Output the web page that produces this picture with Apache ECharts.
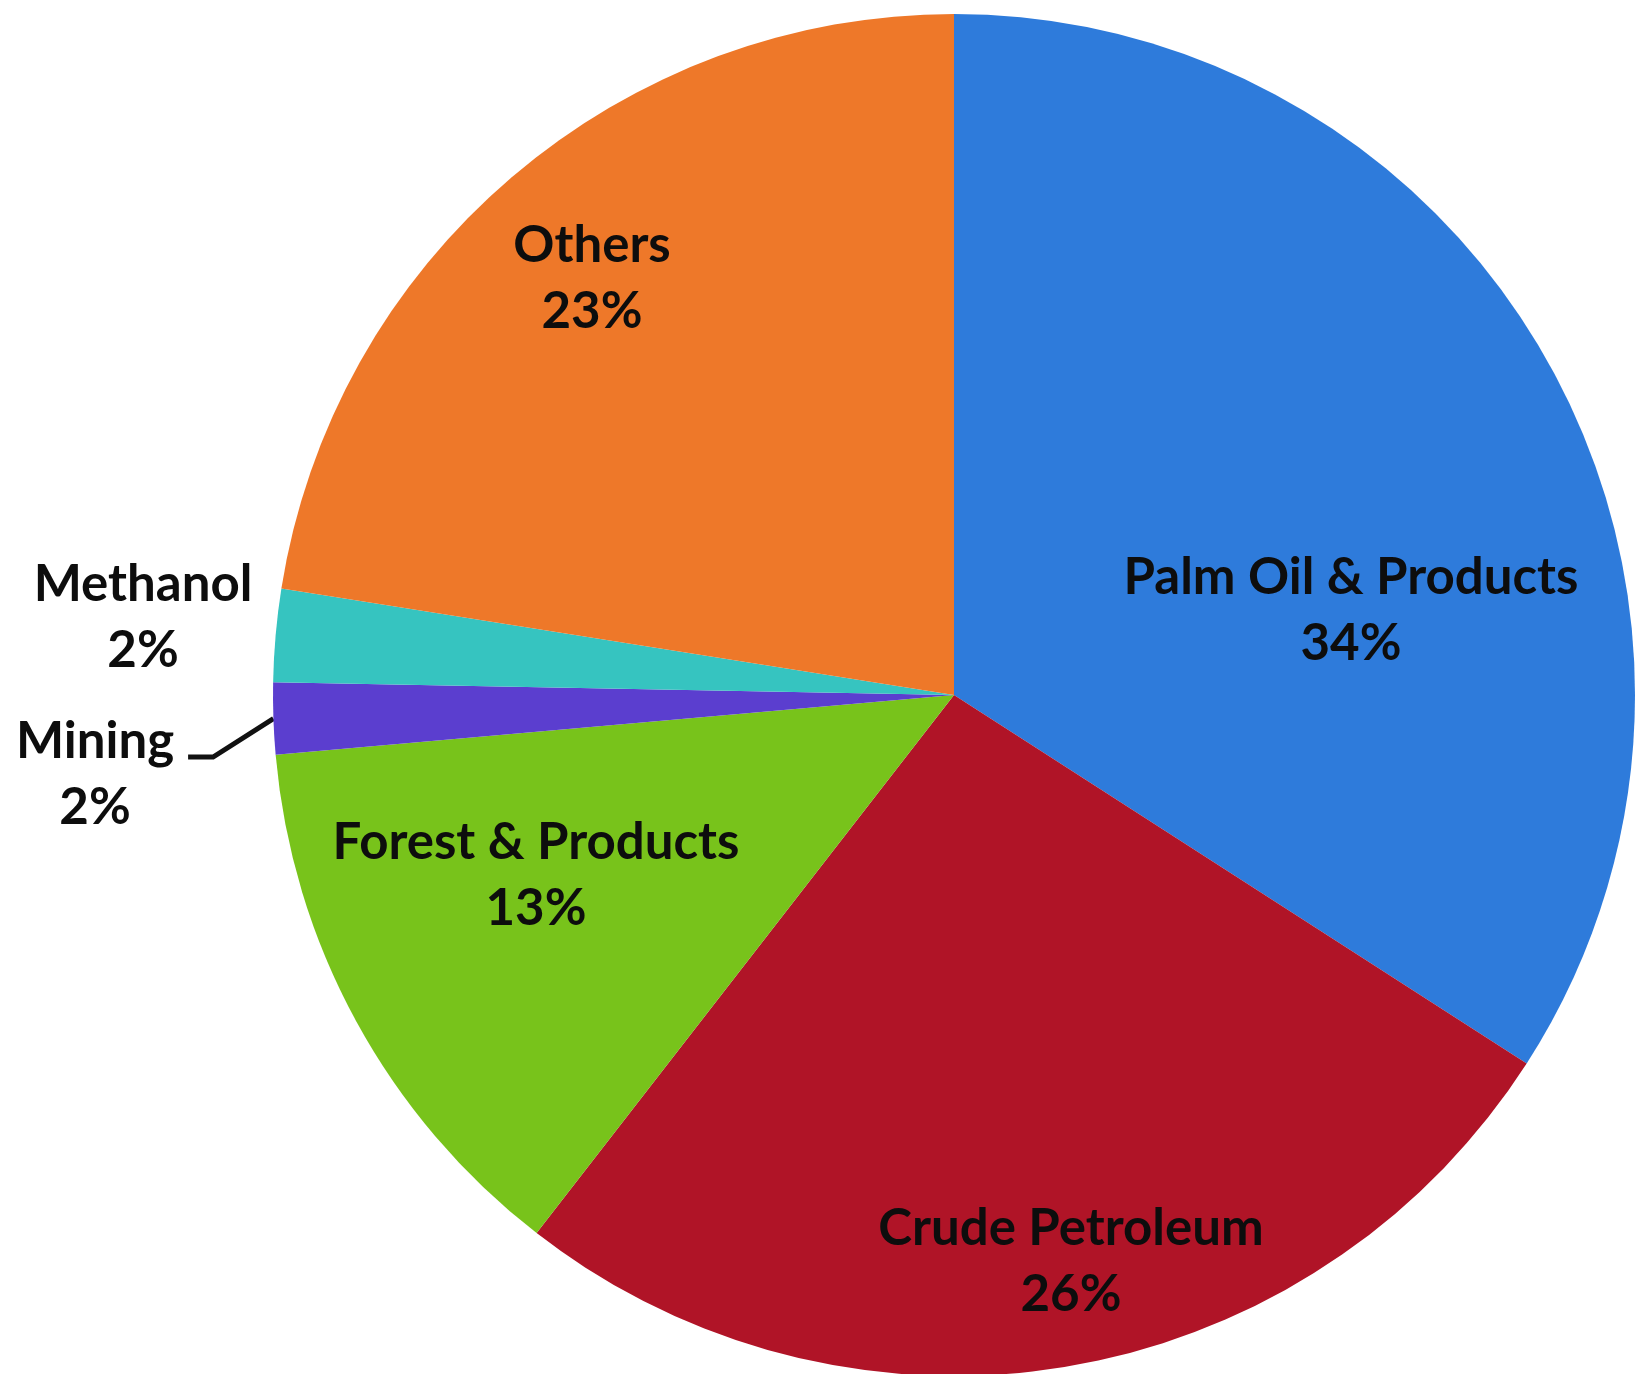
<!DOCTYPE html>
<html>
<head>
<meta charset="utf-8">
<script src="https://cdn.jsdelivr.net/npm/echarts@6/dist/echarts.min.js"></script>
<style>
  html, body { margin: 0; padding: 0; background: #ffffff; }
  #chart { width: 1649px; height: 1374px; }
</style>
</head>
<body>
<div id="chart"></div>
<script>
// Data (clockwise from 12 o'clock)
const categories = ['Palm Oil & Products', 'Crude Petroleum', 'Forest & Products', 'Mining', 'Methanol', 'Others'];
const shares = [34.1, 26.4, 13.1, 1.7, 2.2, 22.5];
const colors = ['#2E7BDB', '#B01427', '#78C31B', '#5B3ECF', '#36C4C0', '#EE7829'];
// label anchor positions (px, centre of the label text block)
const labelPos = [[1351, 611], [1071, 1262], [536, 876], [95, 775], [143, 618], [592, 279]];

const chart = echarts.init(document.getElementById('chart'), null, { renderer: 'canvas' });

const data = categories.map((name, i) => {
  const item = { name: name, value: shares[i], itemStyle: { color: colors[i] } };
  if (name === 'Mining') {
    item.label = { position: 'outside' };
    item.labelLine = { show: true, length: 30, length2: 25, lineStyle: { color: '#111', width: 5 } };
  }
  if (name === 'Methanol') {
    item.label = { position: 'outside' };
    item.labelLine = { show: false };
  }
  return item;
});

chart.setOption({
  animation: false,
  backgroundColor: '#ffffff',
  series: [{
    type: 'pie',
    center: [954, 695],
    radius: [0, 681],
    startAngle: 90,
    clockwise: true,
    avoidLabelOverlap: false,
    data: data,
    itemStyle: { borderWidth: 0 },
    label: {
      show: true,
      position: 'inside',
      formatter: p => p.name + '\n' + Math.round(p.percent) + '%',
      fontFamily: 'Lato',
      fontWeight: 'bold',
      fontSize: 51,
      lineHeight: 66,
      color: '#0d0d0d',
      align: 'center'
    },
    labelLine: { show: false, lineStyle: { width: 5, color: '#111' } },
    labelLayout: function (params) {
      const pos = labelPos[params.dataIndex];
      const out = { x: pos[0], y: pos[1], align: 'center', verticalAlign: 'middle' };
      const pts = params.labelLinePoints;
      if (pts && pts.length && categories[params.dataIndex] === 'Mining') {
        // leader: from the slice's own anchor, down-left, then a short horizontal run
        // ending just right of the first text line
        const right = pos[0] + params.labelRect.width / 2 + 14;
        const ly = pos[1] - 18;
        out.labelLinePoints = [pts[0].slice(), [right + 25, ly], [right, ly]];
      }
      return out;
    },
    emphasis: { disabled: true }
  }]
});
</script>
</body>
</html>
